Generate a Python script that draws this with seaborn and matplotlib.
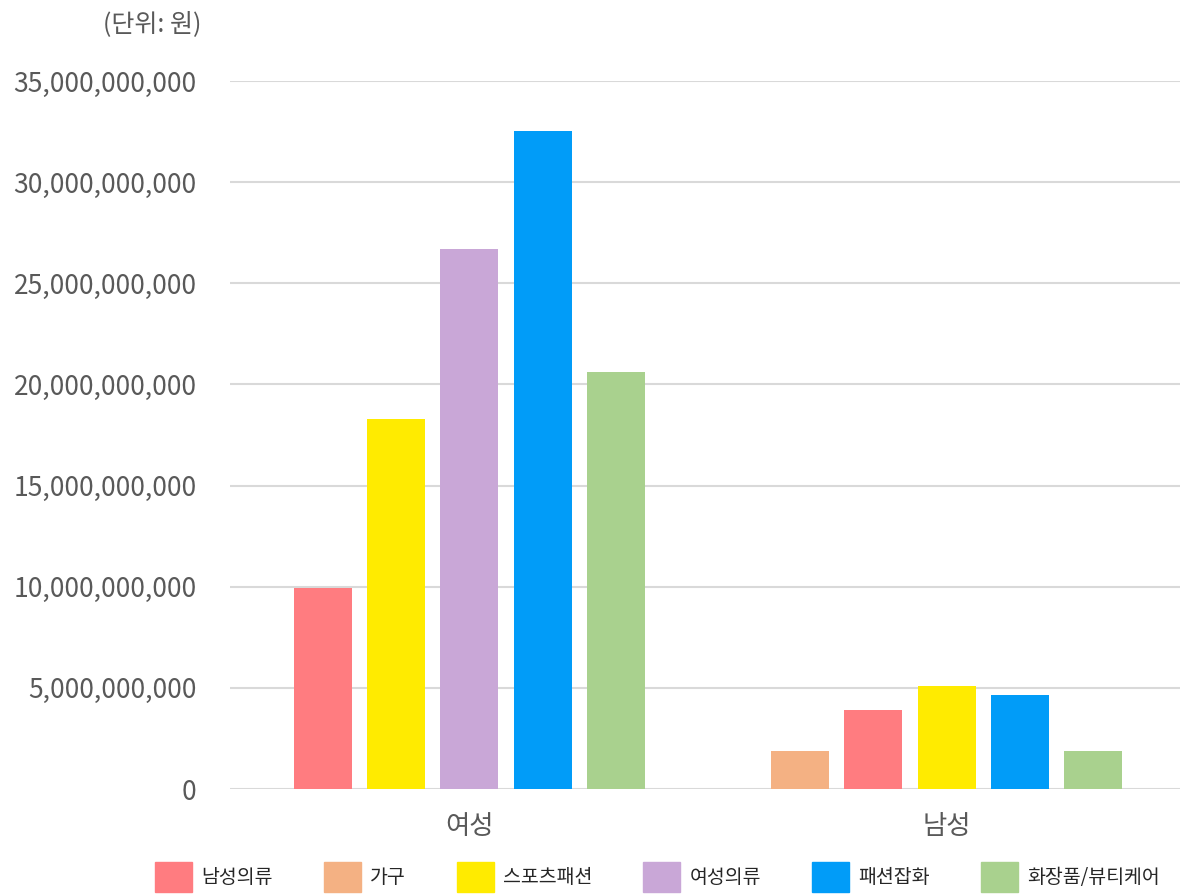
import numpy as np
import pandas as pd
import seaborn as sns
import matplotlib.pyplot as plt
from matplotlib.ticker import StrMethodFormatter

# categories (legend order) and colours
categories = ['남성의류', '가구', '스포츠패션', '여성의류', '패션잡화', '화장품/뷰티케어']
colors = ['#FF7C80', '#F4B183', '#FFEB00', '#C9A7D7', '#019CF8', '#A9D18E']

groups = ['여성', '남성']

# bars present in each group, in drawing order
female_cats = ['남성의류', '스포츠패션', '여성의류', '패션잡화', '화장품/뷰티케어']
female_vals = [9.95e9, 18.3e9, 26.7e9, 32.55e9, 20.62e9]

male_cats = ['가구', '남성의류', '스포츠패션', '패션잡화', '화장품/뷰티케어']
male_vals = [1.9e9, 3.91e9, 5.1e9, 4.67e9, 1.9e9]

# build long table; bars in a group sit next to each other, groups 6.5 slots apart
group_step = 6.5
rows = []
for g, (cats, vals) in enumerate([(female_cats, female_vals), (male_cats, male_vals)]):
    for i, (c, v) in enumerate(zip(cats, vals)):
        rows.append({'group': groups[g], 'category': c, 'value': v, 'pos': g * group_step + i})
df = pd.DataFrame(rows)

sns.set_theme(style='white')
plt.rcParams['font.family'] = ['Noto Sans CJK KR', 'DejaVu Sans']

fig = plt.figure(figsize=(11.81, 8.96), dpi=100)
ax = fig.add_axes([230 / 1181, 1 - 789 / 896, 950 / 1181, (789 - 81) / 896])

sns.barplot(
    data=df, x='pos', y='value', hue='category',
    hue_order=categories, palette=dict(zip(categories, colors)),
    native_scale=True, dodge=False, width=0.79, errorbar=None,
    saturation=1, linewidth=0, legend=False, ax=ax,
)

grey = '#595959'
ax.set_ylim(0, 35e9)
ax.set_yticks(np.arange(0, 35e9 + 1, 5e9))
ax.yaxis.set_major_formatter(StrMethodFormatter('{x:,.0f}'))
centers = [df[df['group'] == g]['pos'].mean() for g in groups]
ax.set_xticks(centers)
ax.set_xticklabels(groups)
mid = (centers[0] + centers[1]) / 2
ax.set_xlim(mid - 6.51, mid + 6.43)

ax.tick_params(axis='y', length=0, pad=24, labelsize=19, labelcolor=grey)
ax.tick_params(axis='x', length=0, pad=17, labelsize=19, labelcolor=grey)
ax.set_xlabel('')
ax.set_ylabel('')

ax.yaxis.grid(True, color='#D9D9D9', linewidth=1.5)
ax.set_axisbelow(True)
for s in ax.spines.values():
    s.set_visible(False)

fig.text(201 / 1181, 1 - 24 / 896, '(단위: 원)', ha='right', va='center', fontsize=18, color=grey)

handles = [plt.Rectangle((0, 0), 1, 1, color=c) for c in colors]
fig.legend(
    handles, categories, loc='upper left', bbox_to_anchor=(155 / 1181, 1 - 862 / 896),
    ncol=6, frameon=False, fontsize=14, handlelength=1.9, handleheight=2.0,
    handletextpad=0.5, columnspacing=2.6, borderpad=0, borderaxespad=0,
)

fig.savefig('out.png', dpi=100)
